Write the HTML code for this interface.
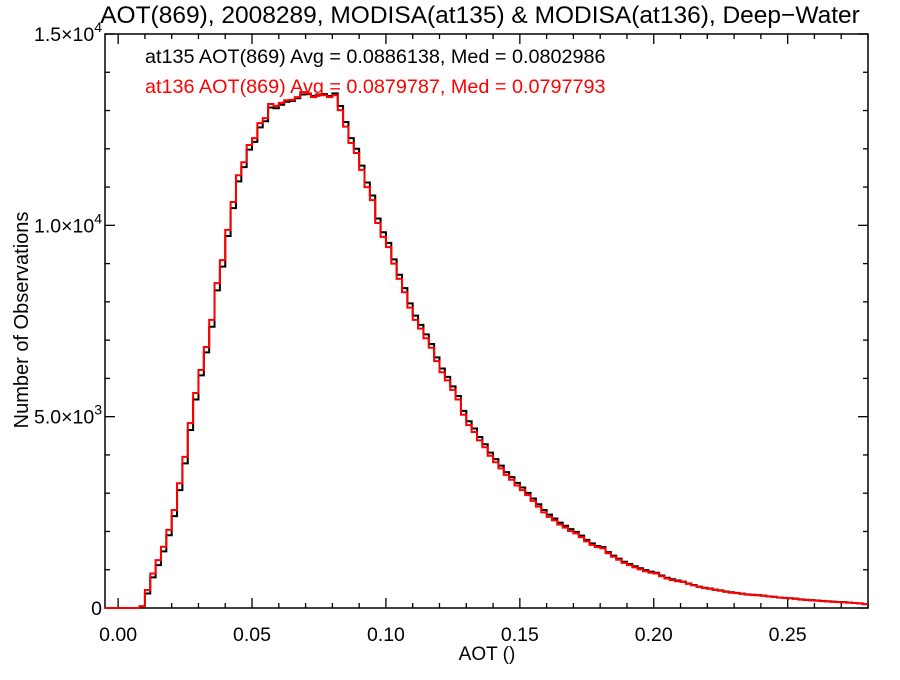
<!DOCTYPE html>
<html><head><meta charset="utf-8"><style>
body{margin:0;background:#fff}
text{font-family:"Liberation Sans",sans-serif}
</style></head><body>
<svg id="chart" width="900" height="675" xmlns="http://www.w3.org/2000/svg">
<rect width="900" height="675" fill="#fff"/>
<text x="480" y="23" font-size="24.5" text-anchor="middle">AOT(869), 2008289, MODISA(at135) &amp; MODISA(at136), Deep−Water</text>
<g id="axes"></g>
<g id="series"></g>
<text x="145" y="63" font-size="19.8" fill="#000">at135 AOT(869) Avg = 0.0886138, Med = 0.0802986</text>
<text x="145" y="93" font-size="19.8" fill="#f00">at136 AOT(869) Avg = 0.0879787, Med = 0.0797793</text>
<text x="487" y="660" font-size="19" text-anchor="middle">AOT ()</text>
<text transform="translate(28,320) rotate(-90)" font-size="20" text-anchor="middle">Number of Observations</text>
</svg>
<script>
const binStart = 0.0;
const binWidth = 0.002;
const seriesNames = ["at135", "at136"];
const at136Counts = [0,0,0,0,50,470,900,1250,1600,2040,2560,3260,3950,4830,5620,6220,6820,7530,8490,9090,9880,10610,11310,11650,12100,12280,12670,12800,13170,13120,13200,13270,13280,13350,13480,13450,13350,13400,13400,13350,13400,13010,12580,12150,11890,11450,11000,10660,10060,9700,9430,9000,8600,8250,7850,7530,7300,7050,6800,6450,6160,5950,5700,5450,5050,4780,4600,4380,4200,3980,3810,3650,3480,3350,3200,3080,2950,2800,2650,2500,2380,2290,2180,2100,2010,1950,1850,1740,1650,1590,1560,1430,1340,1260,1180,1120,1060,1010,960,920,900,830,770,730,700,680,630,590,550,520,500,470,450,420,400,390,370,350,340,330,320,300,290,270,260,250,240,220,210,200,190,180,170,160,155,150,140,130,120,100];
const at135Counts = [0,0,0,0,20,380,800,1120,1480,1900,2400,3080,3780,4650,5450,6080,6680,7350,8300,8920,9720,10450,11150,11520,11980,12180,12560,12720,13080,13060,13150,13230,13250,13320,13420,13430,13380,13420,13430,13380,13450,13120,12700,12280,12000,11560,11120,10780,10180,9820,9540,9110,8710,8360,7960,7640,7400,7150,6900,6550,6260,6040,5790,5540,5150,4880,4690,4470,4280,4060,3890,3720,3550,3420,3270,3150,3010,2860,2710,2560,2440,2340,2230,2150,2060,1990,1890,1780,1690,1620,1590,1460,1370,1290,1210,1150,1090,1040,990,950,920,850,790,750,720,690,640,600,560,530,510,480,460,430,410,395,375,355,345,335,325,305,295,275,265,255,245,225,215,205,195,185,175,165,158,152,142,132,122,102];
const xTicks = [0.00, 0.05, 0.10, 0.15, 0.20, 0.25];
const xTickLabels = ["0.00","0.05","0.10","0.15","0.20","0.25"];
const yTicks = [0, 5000, 10000, 15000];
const yTickMantissa = ["0","5.0×10","1.0×10","1.5×10"];
const yTickExp = ["","3","4","4"];

const L=105, R=868, T=34, B=608;
const xMin=-0.0049, xMax=0.28, yMin=0, yMax=15000;
const xs = v => L + (v - xMin) / (xMax - xMin) * (R - L);
const ys = v => B - (v - yMin) / (yMax - yMin) * (B - T);
const NS="http://www.w3.org/2000/svg";
function mk(tag, attrs, parent){const e=document.createElementNS(NS,tag);for(const k in attrs)e.setAttribute(k,attrs[k]);parent.appendChild(e);return e;}
const axes=document.getElementById('axes');
const frame=mk('rect',{x:L,y:T,width:R-L,height:B-T,fill:'none',stroke:'#000','stroke-width':1.5},axes);


for(let v=0; v<=xMax+1e-9; v+=0.01){
  const major=Math.abs(v/0.05-Math.round(v/0.05))<1e-6;
  const len=major?10:5, x=xs(v);
  const t1=mk('line',{x1:x,x2:x,y1:B,y2:B-len,stroke:'#000','stroke-width':1.3},axes);
  
  
  const t2=mk('line',{x1:x,x2:x,y1:T,y2:T+len,stroke:'#000','stroke-width':1.3},axes);
  
  
}
xTicks.forEach((v,i)=>{
  const t=mk('text',{x:xs(v),y:641,'font-size':19.5,'text-anchor':'middle'},axes);
  t.textContent=xTickLabels[i];
  
  
});
for(let v=0; v<=yMax; v+=1000){
  const major=v%5000===0, len=major?10:5, y=ys(v);
  const t1=mk('line',{x1:L,x2:L+len,y1:y,y2:y,stroke:'#000','stroke-width':1.3},axes);
  
  
  const t2=mk('line',{x1:R,x2:R-len,y1:y,y2:y,stroke:'#000','stroke-width':1.3},axes);
  
  
}
yTicks.forEach((v,i)=>{
  const t=mk('text',{x:102,y:ys(v)+7,'font-size':19.5,'text-anchor':'end'},axes);
  
  
  const a=mk('tspan',{},t); a.textContent=yTickMantissa[i];
  if(yTickExp[i]){const b=mk('tspan',{dy:-9,'font-size':14},t); b.textContent=yTickExp[i];}
});
const series=document.getElementById('series');
function stepPath(counts){
  let d='M'+xs(xMin)+','+ys(0)+' L'+xs(binStart)+','+ys(0);
  counts.forEach((c,i)=>{
    const x0=xs(binStart+i*binWidth), x1=xs(binStart+(i+1)*binWidth);
    d+=' L'+x0+','+ys(c)+' L'+Math.min(x1,R)+','+ys(c);
  });
  return d;
}
const p1=mk('path',{d:stepPath(at135Counts),fill:'none',stroke:'#000','stroke-width':2},series);


const p2=mk('path',{d:stepPath(at136Counts),fill:'none',stroke:'#f00','stroke-width':2},series);


</script>
</body></html>
